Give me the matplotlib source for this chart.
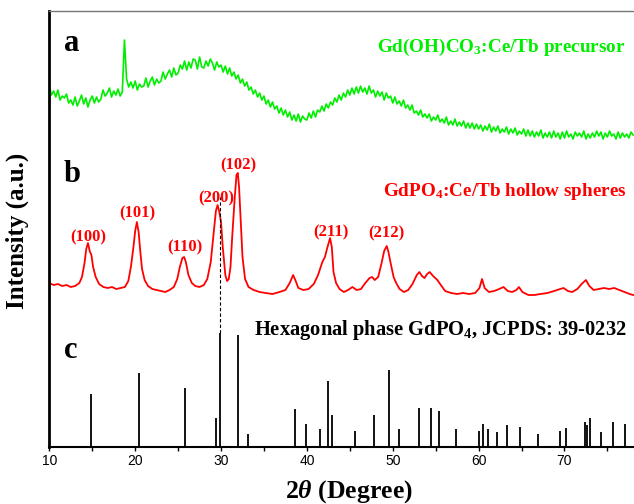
import numpy as np
import matplotlib
matplotlib.use("Agg")
import matplotlib.pyplot as plt
from matplotlib.ticker import MultipleLocator

plt.rcParams['font.family'] = ['Liberation Serif', 'DejaVu Serif']
plt.rcParams['mathtext.fontset'] = 'custom'
plt.rcParams['mathtext.rm'] = 'Liberation Serif:bold'
plt.rcParams['mathtext.it'] = 'Liberation Serif:italic:bold'
plt.rcParams['mathtext.bf'] = 'Liberation Serif:bold'

# ---------------- data ----------------
# (a) precursor, 0.25 deg grid from 10 to 78
green_start, green_step = 10.0, 0.25
green_y = [
    361, 352, 356, 350, 357, 347, 351, 349, 353, 344, 347, 342,
    350, 341, 346, 352, 343, 349, 340, 347, 351, 344, 350, 345,
    348, 357, 351, 354, 359, 350, 356, 352, 358, 351, 355, 407,
    368, 360, 365, 359, 366, 357, 363, 360, 361, 369, 360, 366,
    370, 362, 368, 364, 366, 375, 368, 373, 377, 370, 379, 372,
    374, 382, 378, 386, 377, 385, 379, 388, 387, 378, 390, 380,
    379, 386, 381, 388, 384, 377, 385, 380, 382, 375, 381, 373,
    379, 371, 375, 368, 372, 364, 368, 361, 365, 357, 360, 353,
    357, 350, 354, 347, 351, 343, 347, 340, 345, 338, 341, 334,
    339, 332, 337, 330, 335, 327, 332, 326, 333, 325, 331, 328,
    327, 334, 329, 336, 330, 337, 335, 341, 336, 343, 339, 345,
    342, 349, 345, 352, 347, 354, 350, 357, 352, 359, 353, 360,
    354, 361, 355, 359, 353, 361, 354, 357, 350, 356, 351, 355,
    347, 354, 349, 351, 344, 350, 343, 346, 341, 347, 339, 342,
    337, 342, 334, 336, 332, 337, 330, 333, 329, 333, 326, 330,
    327, 332, 325, 328, 324, 330, 322, 326, 322, 328, 321, 325,
    321, 326, 319, 324, 319, 324, 318, 323, 318, 322, 316, 321,
    317, 323, 315, 320, 316, 321, 314, 318, 315, 320, 313, 318,
    314, 319, 312, 316, 313, 318, 311, 317, 311, 316, 310, 315,
    311, 317, 309, 314, 310, 315, 309, 316, 310, 314, 308, 315,
    309, 316, 310, 313, 308, 315, 311, 314, 310, 316, 308, 313,
    309, 314, 310, 316, 311, 315, 308, 314, 310, 316, 311, 313,
    308, 315, 309, 314, 310, 313, 309, 315, 312,
]

# (b) GdPO4 hollow spheres
red_x = [10.0, 10.5, 11.0, 11.5, 12.0, 12.5, 13.0, 13.5, 13.8, 14.1, 14.3, 14.5,
         14.7, 14.9, 15.1, 15.4, 15.8, 16.3, 16.8, 17.3, 17.8, 18.3, 18.8, 19.2,
         19.5, 19.8, 20.0, 20.2, 20.4, 20.6, 20.8, 21.1, 21.5, 22.0, 22.5, 23.0,
         23.5, 24.0, 24.5, 24.9, 25.2, 25.5, 25.7, 25.9, 26.2, 26.6, 27.0, 27.5,
         28.0, 28.4, 28.8, 29.1, 29.4, 29.6, 29.8, 30.0, 30.2, 30.5, 30.7, 30.9,
         31.1, 31.3, 31.6, 31.8, 31.95, 32.1, 32.3, 32.5, 32.8, 33.2, 33.8, 34.5,
         35.2, 36.0, 36.8, 37.5, 38.0, 38.4, 38.7, 39.0, 39.6, 40.2, 40.8, 41.3,
         41.8, 42.1, 42.4, 42.7, 42.9, 43.1, 43.4, 43.8, 44.3, 44.8, 45.3, 45.8,
         46.3, 46.8, 47.3, 47.6, 47.9, 48.3, 48.7, 49.0, 49.3, 49.5, 49.8, 50.1,
         50.4, 50.8, 51.3, 51.8, 52.3, 52.8, 53.1, 53.4, 53.7, 54.0, 54.3, 54.7,
         55.2, 55.6, 56.1, 56.8, 57.5, 58.2, 58.9, 59.6, 60.1, 60.4, 60.7, 61.2,
         61.8, 62.4, 62.9, 63.4, 63.9, 64.4, 64.7, 65.1, 65.8, 66.5, 67.2, 68.0,
         68.8, 69.5, 69.9, 70.4, 70.9, 71.5, 72.0, 72.5, 72.9, 73.4, 74.0, 74.6,
         75.2, 75.8, 76.4, 77.0, 77.6, 78.0]
red_y = [164, 162, 163, 161, 162, 160, 161, 164, 170, 184, 198, 204,
         196, 192, 180, 170, 163, 160, 159, 160, 158, 159, 160, 166,
         180, 200, 216, 225, 215, 195, 178, 167, 161, 158, 157, 156,
         155, 157, 160, 168, 180, 189, 190, 185, 172, 164, 161, 160,
         162, 168, 185, 210, 236, 242, 235, 225, 200, 172, 166, 168,
         180, 210, 250, 272, 274, 260, 225, 190, 168, 160, 157, 155,
         154, 153, 155, 157, 164, 172, 166, 159, 157, 158, 163, 172,
         185, 190, 200, 209, 200, 175, 164, 158, 155, 157, 160, 157,
         158, 164, 169, 170, 167, 170, 184, 196, 201, 195, 182, 170,
         164, 158, 155, 157, 163, 172, 175, 171, 169, 173, 175, 171,
         167, 162, 156, 154, 153, 154, 153, 154, 159, 168, 159, 155,
         156, 158, 160, 156, 155, 157, 160, 155, 152, 152, 153, 154,
         156, 158, 159, 156, 155, 158, 163, 167, 161, 157, 158, 159,
         158, 159, 157, 155, 153, 152]

# peak labels
hkl_labels = ['(100)', '(101)', '(110)', '(200)', '(102)', '(211)', '(212)']
hkl_x = [14.5, 20.3, 25.8, 29.5, 32.0, 42.8, 49.3]
hkl_y = [210, 234, 200, 249, 282, 215, 214]

# (c) JCPDS 39-0232 stick pattern
stick_x = [14.8, 20.4, 25.8, 29.4, 29.9, 32.0, 33.1, 38.6, 39.9, 41.55, 42.45,
           42.9, 45.6, 47.85, 49.6, 50.7, 53.1, 54.4, 55.4, 57.4, 60.0, 60.55,
           61.1, 62.1, 63.35, 64.85, 66.95, 69.5, 70.2, 72.4, 72.6, 73.0, 74.2,
           75.6, 77.0]
stick_h = [53, 74, 59, 29, 114, 112, 13, 38, 23, 18, 66,
           32, 16, 32, 77, 18, 39, 39, 36, 18, 16, 23,
           18, 15, 22, 20, 13, 16, 19, 25, 22, 29, 15,
           25, 23]
dash_top = 250

x_ticks = [10, 20, 30, 40, 50, 60, 70]

# ---------------- figure ----------------
fig = plt.figure(figsize=(6.34, 5.04), dpi=100)
ax = fig.add_axes([0.0778, 0.1131, 0.9222, 0.865])

green_x = green_start + green_step * np.arange(len(green_y))
ax.plot(green_x, green_y, color='#00ee00', lw=1.2)
ax.plot(red_x, red_y, color='#ff0000', lw=1.3)
ax.vlines(stick_x, 0, stick_h, color='black', lw=1.3)
imax = int(np.argmax(stick_h))
ax.plot([stick_x[imax], stick_x[imax]], [stick_h[imax], dash_top],
        color='black', lw=0.8, ls=(0, (3, 2)))

for lab, x, y in zip(hkl_labels, hkl_x, hkl_y):
    ax.text(x, y, lab, color='#ff0000', fontsize=12, fontweight='bold',
            ha='center', va='center')

ax.set_xlim(10, 78.1)
ax.set_ylim(0, 436)

ax.text(0.025, 0.926, 'a', transform=ax.transAxes, fontsize=22, fontweight='bold', va='center')
ax.text(0.025, 0.626, 'b', transform=ax.transAxes, fontsize=22, fontweight='bold', va='center')
ax.text(0.025, 0.221, 'c', transform=ax.transAxes, fontsize=22, fontweight='bold', va='center')

ax.text(77.1, 400, r'Gd(OH)CO$_3$:Ce/Tb precursor', color='#00ee00',
        fontsize=13.8, fontweight='bold', ha='right', va='center')
ax.text(77.2, 256, r'GdPO$_4$:Ce/Tb hollow spheres', color='#ff0000',
        fontsize=13.8, fontweight='bold', ha='right', va='center')
ax.text(77.3, 117, r'Hexagonal phase GdPO$_4$, JCPDS: 39-0232', color='black',
        fontsize=14.8, fontweight='bold', ha='right', va='center')

ax.set_xticks(x_ticks)
ax.xaxis.set_minor_locator(MultipleLocator(5))
ax.set_yticks([])
ax.tick_params(axis='x', which='both', direction='out', length=3, width=1,
               labelsize=10, pad=2)
for t in ax.get_xticklabels():
    t.set_fontfamily(['Liberation Sans', 'DejaVu Sans'])

ax.spines['left'].set_linewidth(2.0)
ax.spines['bottom'].set_linewidth(1.5)
ax.spines['top'].set_linewidth(1.0)
ax.spines['top'].set_color('#777777')
ax.spines['right'].set_visible(False)

ax.set_xlabel(r'2$\theta$ (Degree)', fontsize=18.5, fontweight='bold')
ax.set_ylabel('Intensity (a.u.)', fontsize=18, fontweight='bold')
ax.xaxis.set_label_coords(0.513, -0.072)
ax.yaxis.set_label_coords(-0.035, 0.495)

fig.savefig('out.png', dpi=100)
